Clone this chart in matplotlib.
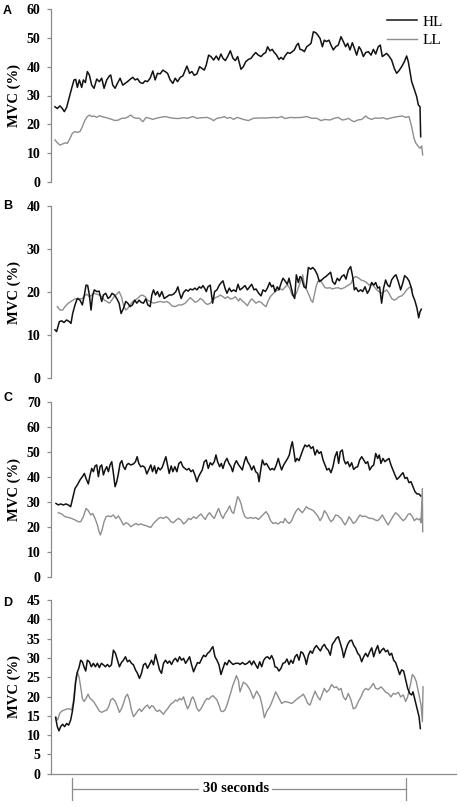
import matplotlib
matplotlib.use("Agg")
import matplotlib.pyplot as plt
import matplotlib.transforms as mtransforms

# ---------------- data (time in s, MVC in %) ----------------
a_hl_t = [-1.53,-1.32,-1.08,-0.87,-0.69,-0.48,-0.27,-0.03,0.18,0.33,0.48,0.66,0.87,1.02,1.2,1.38,1.56,1.77,1.98,2.22,
          2.46,2.67,2.88,3.12,3.36,3.48,3.66,3.87,4.08,4.32,4.56,4.77,4.98,5.22,5.46,5.67,5.88,6.12,6.36,6.57,
          6.78,7.02,7.26,7.47,7.68,7.92,8.16,8.37,8.58,8.82,9.06,9.27,9.48,9.72,9.96,10.17,10.32,10.56,10.77,10.98,
          11.22,11.46,11.67,11.88,12.06,12.27,12.48,12.72,12.96,13.17,13.38,13.56,13.77,13.98,14.22,14.46,14.67,14.88,
          15.18,15.39,15.60,15.84,16.08,16.29,16.50,16.74,16.98,17.19,17.40,17.57,17.78,17.99,18.17,18.38,18.59,18.77,18.98,19.13,
          19.37,19.58,19.79,19.97,20.18,20.33,20.48,20.69,20.87,21.08,21.29,21.47,21.68,21.89,22.07,22.28,22.49,22.66,22.87,23.08,
          23.26,23.47,23.68,23.92,24.16,24.37,24.58,24.76,24.97,25.18,25.36,25.57,25.78,25.96,26.17,26.38,26.62,26.86,27.07,27.28,
          27.51,27.69,27.87,28.05,28.26,28.47,28.71,28.95,29.16,29.37,29.61,29.85,30.06,30.21,30.36,30.51,30.75,30.96,31.11,31.26,31.32]
a_hl_v = [26.1,25.5,26.4,25.5,24.4,25.9,29.0,32.5,35.4,35.6,32.8,35.4,32.8,35.4,34.5,38.3,37.1,33.6,32.5,35.7,
          34.8,36.0,32.5,35.4,36.8,37.1,33.6,32.5,34.2,36.0,33.6,34.2,34.8,35.6,36.3,35.4,35.8,34.5,34.2,35.1,
          34.8,36.0,38.5,35.4,37.7,37.5,38.8,38.3,37.7,35.4,34.2,36.0,34.8,36.3,36.8,38.8,40.2,37.7,38.3,37.0,
          37.5,40.0,39.4,38.8,40.6,44.0,43.5,42.3,43.7,42.3,44.4,42.9,42.1,43.5,45.5,42.9,42.1,43.5,
          39.1,40.0,41.7,42.5,42.9,44.0,44.9,44.0,43.5,44.4,44.9,46.9,45.5,46.0,44.9,44.0,42.5,43.2,42.5,43.7,
          44.9,44.6,45.2,45.8,47.5,48.1,46.0,45.8,45.2,46.9,47.5,48.1,52.1,51.8,51.0,49.8,46.9,49.2,48.7,49.2,
          47.5,45.8,46.9,47.5,50.4,48.7,46.9,48.1,45.8,48.3,46.4,44.0,46.9,45.8,43.5,44.9,45.2,44.0,46.0,44.4,
          46.9,47.5,43.5,44.0,44.6,43.7,42.3,39.4,37.7,38.6,40.0,41.7,43.7,41.7,38.3,34.8,32.1,29.6,26.7,26.1,15.7]

a_ll_t = [-1.53,-1.32,-1.08,-0.84,-0.63,-0.42,-0.18,0.03,0.27,0.48,0.72,0.93,1.17,1.38,1.56,1.77,1.98,2.22,2.46,2.67,
          2.97,3.27,3.57,3.87,4.17,4.47,4.77,5.07,5.28,5.52,5.76,6.06,6.36,6.66,6.96,7.26,7.56,7.92,8.37,8.67,
          9.12,9.57,10.02,10.38,10.86,11.22,11.67,12.12,12.42,12.72,13.02,13.47,13.68,13.92,14.22,14.52,14.82,15.09,15.39,15.84,
          16.29,16.89,17.49,18.08,18.53,18.83,19.13,19.58,20.03,20.63,21.08,21.53,21.98,22.37,22.72,23.17,23.56,23.92,24.28,24.58,
          24.82,25.12,25.36,25.66,26.02,26.38,26.62,26.92,27.22,27.57,27.96,28.26,28.56,28.86,29.31,29.67,29.97,30.27,30.51,30.72,
          30.90,31.11,31.26,31.41,31.50]
a_ll_v = [14.6,13.6,12.8,13.2,13.6,13.4,15.1,16.9,17.5,17.2,17.5,19.2,21.5,22.7,23.2,22.7,22.9,22.4,23.0,22.7,
          22.4,22.1,21.7,21.3,21.5,22.1,22.1,22.7,23.2,22.4,22.1,22.1,20.9,22.4,22.1,21.7,22.1,22.4,22.7,22.4,
          22.1,22.0,22.3,22.1,22.7,22.1,22.3,22.4,22.0,21.3,22.1,22.4,22.7,22.1,22.4,21.7,22.4,22.1,21.7,21.3,
          22.1,22.2,22.2,22.4,22.3,22.7,22.0,22.4,22.3,22.4,22.7,22.1,22.1,21.3,21.7,21.5,22.1,22.4,21.5,21.7,
          22.1,21.3,20.9,21.5,21.7,22.9,22.1,21.7,22.2,22.1,22.3,21.8,22.1,22.4,22.7,22.9,22.4,22.7,19.2,15.1,
          13.4,12.3,11.7,12.5,9.4]

b_hl_t = [-1.53,-1.38,-1.14,-0.93,-0.72,-0.48,-0.24,-0.09,0.06,0.27,0.48,0.72,0.93,1.11,1.26,1.41,1.56,1.71,1.86,2.01,
          2.22,2.43,2.67,2.82,3.03,3.24,3.42,3.60,3.81,4.02,4.23,4.41,4.62,4.83,5.01,5.22,5.43,5.64,5.82,6.03,
          6.21,6.42,6.63,6.81,7.02,7.17,7.32,7.50,7.68,7.86,8.07,8.28,8.52,8.73,8.94,9.12,9.33,9.51,9.66,9.81,
          10.02,10.23,10.44,10.62,10.83,11.04,11.22,11.43,11.61,11.76,11.91,12.06,12.21,12.42,12.63,12.81,13.02,13.23,13.41,13.56,
          13.74,13.92,14.13,14.31,14.52,14.73,14.91,
          15.09,15.30,15.54,15.75,15.96,16.14,16.35,16.53,16.77,16.98,17.16,17.37,17.57,17.75,17.93,18.08,18.23,18.44,18.59,18.80,
          18.95,19.13,19.34,19.49,19.64,19.85,20.00,20.15,20.33,20.48,20.63,20.84,21.02,21.23,21.44,21.62,21.83,22.04,22.22,22.43,
          22.63,22.81,23.02,23.23,23.41,23.62,23.83,24.01,24.22,24.43,24.61,24.82,25.03,25.21,25.36,25.51,25.72,25.93,26.11,26.32,
          26.53,26.71,26.92,27.10,27.28,27.46,27.63,27.81,27.99,28.17,28.35,28.53,28.71,28.92,29.10,29.31,29.52,29.70,29.88,30.09,
          30.27,30.45,30.60,30.81,30.99,31.14,31.26,31.38]
b_hl_v = [11.2,10.8,13.1,13.3,12.9,13.5,13.1,12.7,15.0,17.0,18.5,18.1,17.0,19.3,21.6,21.5,19.3,15.8,19.3,20.5,
          20.1,20.2,17.8,19.3,19.7,18.5,18.9,19.7,19.3,18.5,17.4,15.0,16.2,17.8,17.4,16.6,17.0,18.1,17.4,18.1,
          17.6,17.4,18.4,17.0,16.6,19.3,20.5,19.3,20.1,18.9,20.1,18.5,18.9,19.3,19.3,19.5,20.1,21.2,19.7,18.5,
          19.9,20.5,20.2,20.7,20.5,20.9,20.5,21.2,20.9,21.5,20.9,20.1,21.2,21.6,17.4,20.1,20.5,21.6,22.2,22.6,
          20.9,19.7,20.9,20.1,20.5,20.1,21.8,
          20.5,20.9,21.5,20.5,21.2,21.8,20.5,20.7,19.7,19.1,20.5,20.1,21.0,22.2,21.2,21.6,20.1,21.2,20.5,22.2,
          23.2,22.6,21.8,23.2,21.6,19.3,18.5,24.0,22.2,23.6,23.2,21.2,20.9,25.7,25.3,25.7,25.1,24.0,22.4,22.8,
          23.3,23.6,24.1,24.6,22.4,21.8,23.2,22.6,23.6,24.0,23.0,25.1,25.9,23.6,20.5,21.0,20.1,20.5,20.1,21.2,
          19.7,20.5,22.2,21.6,22.2,20.9,21.2,17.4,20.9,22.8,21.6,21.2,22.8,23.6,24.0,22.4,20.5,22.0,23.8,23.3,
          22.6,21.2,19.3,17.9,16.2,14.0,15.4,16.0]

b_ll_t = [-1.32,-1.08,-0.84,-0.63,-0.33,-0.03,0.27,0.57,0.87,1.08,1.32,1.56,1.77,1.98,2.22,2.46,2.67,2.91,3.12,3.36,
          3.57,3.78,4.02,4.23,4.44,4.62,4.83,5.01,5.22,5.46,5.67,5.88,6.12,6.33,6.57,6.78,7.02,7.32,7.62,7.92,
          8.22,8.52,8.76,8.97,9.27,9.57,9.87,10.17,10.41,10.62,10.86,11.07,11.31,11.52,11.76,11.97,12.18,12.42,12.66,12.87,
          13.11,13.32,13.56,13.77,13.98,14.22,14.46,14.67,14.97,
          15.09,15.30,15.54,15.75,15.96,16.14,16.35,16.53,16.77,16.98,17.22,17.43,17.60,17.81,18.02,18.26,18.50,18.71,18.92,19.16,
          19.37,19.55,19.76,19.97,20.15,20.36,20.57,20.72,20.87,21.08,21.29,21.47,21.62,21.77,21.92,22.07,22.28,22.49,22.72,22.96,
          23.17,23.38,23.62,23.92,24.16,24.46,24.76,25.06,25.27,25.48,25.72,25.96,26.20,26.47,26.68,26.92,27.16,27.37,27.57,27.81,
          28.05,28.26,28.47,28.71,28.95,29.16,29.37,29.61,29.85,30.06,30.27,30.45,30.57]
b_ll_v = [16.6,15.8,15.8,16.6,17.4,17.9,18.4,18.5,18.4,18.9,19.5,18.9,19.3,19.7,19.5,19.3,18.9,18.1,17.8,17.4,
          18.1,18.9,19.5,20.1,18.9,17.0,15.8,16.2,17.0,17.8,18.1,18.5,19.1,19.3,18.9,18.1,17.8,17.4,17.6,17.8,
          17.6,17.8,17.4,16.8,16.6,17.0,17.0,17.4,18.1,18.7,18.1,17.6,17.9,18.5,18.1,17.4,17.1,17.4,18.1,18.7,
          18.9,19.3,18.9,18.5,18.9,18.4,18.5,18.9,17.9,
          18.5,17.9,17.4,16.8,17.8,18.4,17.9,17.4,17.8,17.6,17.0,16.6,17.8,18.9,19.5,20.1,20.5,20.7,20.5,21.2,
          21.6,20.9,19.3,18.9,19.7,21.2,22.8,24.0,21.6,20.5,19.3,18.1,17.6,19.3,21.2,22.4,22.8,22.0,21.0,20.9,
          21.0,20.7,20.9,21.0,20.7,21.0,21.5,22.0,23.2,23.6,23.3,22.8,22.6,22.2,21.6,22.0,21.2,20.5,20.1,19.7,
          20.1,20.5,19.7,18.5,18.1,18.4,18.9,19.1,19.7,20.5,21.0,21.2,20.5]

c_hl_t = [-1.44,-1.23,-1.02,-0.78,-0.54,-0.33,-0.12,0.06,0.27,0.48,0.72,0.93,1.11,1.26,1.47,1.62,1.77,1.92,2.07,2.22,
          2.37,2.52,2.67,2.82,2.97,3.12,3.27,3.42,3.57,3.72,3.87,4.02,4.17,4.32,4.47,4.62,4.77,4.92,5.07,5.28,
          5.52,5.70,5.85,6.00,6.18,6.36,6.54,6.72,6.90,7.08,7.23,7.41,7.56,7.74,7.92,8.10,8.28,8.43,8.58,8.73,
          8.91,9.06,9.24,9.42,9.60,9.78,9.96,10.14,10.32,10.50,10.68,10.86,11.04,11.22,11.37,11.52,11.70,11.88,12.06,12.24,
          12.42,12.60,12.78,12.93,13.08,13.26,13.41,13.56,13.74,13.92,14.10,14.28,14.43,14.58,14.76,14.97,
          15.09,15.30,15.48,15.63,15.78,15.96,16.14,16.32,16.50,16.68,16.80,16.95,17.10,17.28,17.46,17.63,17.81,17.99,18.17,18.35,
          18.53,18.68,18.83,19.01,19.19,19.37,19.52,19.67,19.79,19.91,20.06,20.21,20.39,20.57,20.75,20.93,21.11,21.29,21.47,21.65,
          21.83,22.01,22.19,22.37,22.55,22.73,22.90,23.08,23.26,23.44,23.62,23.80,23.95,24.10,24.28,24.43,24.58,24.76,24.94,25.12,
          25.30,25.48,25.66,25.84,26.02,26.20,26.38,26.56,26.74,26.92,27.10,27.28,27.46,27.60,27.75,27.93,28.11,28.29,28.47,28.65,
          28.83,29.01,29.19,29.37,29.55,29.73,29.91,30.09,30.27,30.45,30.63,30.81,30.99,31.17,31.32]
c_hl_v = [29.3,28.7,29.1,28.7,29.1,28.7,28.0,31.3,35.3,36.7,38.7,40.0,41.3,39.3,37.1,40.7,43.3,42.0,44.3,44.7,
          40.0,44.0,44.7,40.7,42.7,44.0,42.0,44.7,46.0,41.3,36.0,38.0,41.3,45.3,46.4,44.0,42.9,44.7,45.3,44.7,
          45.1,46.0,48.0,45.3,44.0,44.3,43.7,41.1,42.9,44.7,42.0,44.3,41.3,43.7,42.7,43.7,46.0,48.0,44.7,41.3,
          44.3,42.0,44.0,42.0,45.3,46.0,44.0,43.3,42.7,43.3,42.0,42.7,40.7,38.0,40.0,41.3,42.7,46.0,46.7,43.3,
          45.6,44.7,46.0,48.7,46.0,44.0,45.3,43.3,46.0,47.3,45.3,44.0,42.0,44.7,46.4,44.7,
          44.0,42.7,46.0,48.0,46.0,44.7,42.7,44.3,42.0,41.3,38.0,42.7,46.7,44.7,45.3,44.0,42.7,43.3,42.7,44.7,
          47.3,44.7,42.7,44.7,46.0,47.3,48.7,52.0,54.0,50.7,46.0,47.3,46.4,48.7,50.9,52.7,52.0,52.7,51.3,52.0,
          48.7,50.7,49.3,50.0,46.7,44.7,42.7,43.3,41.6,44.0,48.0,50.0,45.3,50.0,50.7,46.7,45.1,46.0,44.0,45.6,
          42.9,43.7,44.0,46.7,48.0,46.7,45.3,46.0,42.7,44.0,44.7,49.3,47.3,48.7,45.3,47.3,46.0,46.7,47.3,44.7,
          42.7,40.7,38.9,39.7,40.7,41.6,39.3,39.7,37.6,38.0,36.0,34.0,33.1,33.1,32.3]

c_ll_t = [-1.23,-0.93,-0.63,-0.33,-0.03,0.27,0.57,0.78,1.02,1.26,1.47,1.68,1.86,2.07,2.28,2.43,2.55,2.70,2.88,3.06,
          3.27,3.48,3.72,3.93,4.17,4.38,4.62,4.86,5.07,5.28,5.52,5.76,5.97,6.18,6.42,6.66,6.87,7.08,7.32,7.56,
          7.77,7.98,8.22,8.46,8.67,8.88,9.12,9.36,9.57,9.78,10.02,10.26,10.47,10.68,10.92,11.16,11.37,11.58,11.76,11.97,
          12.18,12.36,12.57,12.78,12.96,13.17,13.38,13.56,13.77,13.98,14.16,14.34,14.52,14.70,14.88,
          15.00,15.18,15.36,15.54,15.78,16.02,16.26,16.50,16.74,16.98,17.22,17.43,17.63,17.84,18.05,18.29,18.53,18.77,18.98,19.13,
          19.31,19.52,19.73,19.94,20.15,20.33,20.51,20.69,20.87,21.05,21.23,21.47,21.68,21.89,22.07,22.28,22.49,22.67,22.87,23.08,
          23.26,23.47,23.68,23.92,24.16,24.34,24.52,24.70,24.88,25.06,25.27,25.48,25.66,25.87,26.08,26.32,26.56,26.77,26.98,27.22,
          27.46,27.66,27.87,28.05,28.26,28.41,28.65,28.86,29.07,29.31,29.55,29.76,29.97,30.15,30.36,30.57,30.75,30.96,31.17,31.29,
          31.35,31.47,31.50]
c_ll_v = [25.6,25.1,24.0,23.7,23.3,22.7,22.0,22.0,24.0,27.3,26.4,24.7,25.3,23.3,20.7,18.0,16.7,18.7,22.0,24.0,
          24.3,24.0,24.7,23.3,24.3,22.7,20.7,21.6,21.1,20.0,20.7,21.3,20.7,21.1,20.7,20.4,20.0,19.7,21.3,22.4,
          23.3,23.7,23.3,24.0,23.3,22.0,21.6,22.7,23.3,22.7,21.1,22.0,23.3,22.9,24.0,23.3,24.3,25.1,24.0,22.9,
          24.7,25.6,24.3,23.3,25.3,27.3,24.7,23.3,25.3,26.7,28.3,26.0,25.3,28.7,32.0,
          31.3,29.3,26.0,24.0,23.3,23.7,23.3,23.7,22.9,24.0,25.1,26.0,24.7,22.4,21.3,21.6,21.1,22.0,21.6,23.3,
          22.0,21.3,22.4,24.7,26.4,27.3,26.4,25.6,26.7,28.0,27.3,26.9,26.4,25.3,24.3,22.4,24.0,26.4,25.3,23.3,
          22.0,22.9,24.7,24.3,23.3,22.0,20.7,22.0,24.0,22.9,21.3,22.0,23.3,24.7,24.0,24.3,23.7,23.3,23.3,22.7,
          22.4,23.3,24.7,23.3,21.6,20.7,22.7,24.3,25.6,24.7,23.3,22.4,23.3,24.7,25.3,24.0,22.4,23.3,22.7,23.3,
          21.6,35.3,18.0]

d_hl_t = [-1.47,-1.32,-1.17,-1.02,-0.84,-0.66,-0.48,-0.30,-0.12,0.03,0.18,0.33,0.48,0.63,0.78,0.93,1.08,1.23,1.38,1.56,
          1.74,1.92,2.10,2.28,2.46,2.64,2.82,3.00,3.18,3.36,3.54,3.72,3.90,4.08,4.26,4.44,4.62,4.80,4.98,5.16,
          5.34,5.52,5.70,5.88,6.06,6.24,6.42,6.60,6.78,6.96,7.14,7.32,7.50,7.68,7.86,8.04,8.22,8.40,8.58,8.76,
          8.94,9.12,9.30,9.48,9.66,9.84,10.02,10.20,10.38,10.56,10.74,10.92,11.10,11.28,11.46,11.64,11.82,12.00,12.18,12.36,
          12.54,12.66,12.84,13.02,13.20,13.38,13.56,13.74,13.92,14.10,14.28,14.46,14.70,14.97,
          15.09,15.30,15.54,15.75,15.96,16.14,16.32,16.50,16.68,16.86,17.04,17.22,17.40,17.57,17.75,17.93,18.11,18.23,18.41,18.59,
          18.77,18.95,19.13,19.31,19.49,19.67,19.85,20.03,20.21,20.39,20.57,20.75,20.93,21.05,21.23,21.41,21.59,21.77,21.95,22.13,
          22.31,22.49,22.67,22.85,23.02,23.20,23.38,23.56,23.74,23.92,24.10,24.28,24.40,24.58,24.76,24.94,25.12,25.30,25.48,25.66,
          25.84,26.02,26.20,26.38,26.56,26.74,26.92,27.10,27.28,27.46,27.63,27.81,27.99,28.17,28.35,28.53,28.71,28.89,29.07,29.25,
          29.43,29.61,29.79,29.97,30.15,30.33,30.51,30.63,30.81,30.99,31.17,31.29]
d_hl_v = [14.5,12.2,11.1,12.2,12.8,12.2,13.0,12.6,13.9,16.1,19.1,23.8,26.3,27.5,29.4,29.0,27.7,26.6,29.4,29.0,
          27.7,28.6,27.7,28.6,27.5,28.6,28.2,27.7,28.3,27.7,28.2,32.0,31.2,29.4,27.7,28.8,29.4,30.3,29.0,29.4,
          28.6,28.2,26.9,26.0,24.7,26.0,28.2,28.6,27.3,28.3,29.4,28.2,30.9,29.0,26.9,26.0,28.6,29.4,28.6,29.2,
          28.3,29.4,29.9,29.0,30.3,29.4,29.9,28.6,29.4,30.3,28.2,26.4,27.7,28.8,28.6,29.7,30.7,30.3,31.2,31.6,
          32.5,32.9,30.3,29.4,28.2,25.7,27.3,28.8,28.2,29.4,28.8,28.3,28.6,28.6,
          28.3,28.8,28.3,28.6,29.2,28.2,29.2,28.2,27.3,29.0,27.7,29.4,30.1,30.3,29.7,30.6,29.4,27.7,27.5,26.6,
          27.3,28.6,28.8,29.7,28.3,29.4,28.6,30.3,30.9,29.4,31.6,31.2,29.9,28.3,30.7,31.8,31.2,32.5,33.2,32.5,
          31.8,32.9,33.5,32.5,32.0,30.7,33.5,34.2,35.1,35.5,33.8,32.0,30.1,32.0,33.5,34.4,34.6,33.3,32.5,31.2,
          30.6,29.0,30.3,31.2,30.3,31.6,32.6,30.3,32.0,33.2,31.2,32.0,32.5,31.6,32.0,30.7,31.2,29.4,28.8,27.3,
          25.7,26.9,26.6,24.3,22.1,20.8,20.4,21.2,19.1,16.9,14.8,11.7]

d_ll_t = [-1.47,-1.29,-1.11,-0.93,-0.69,-0.45,-0.21,-0.03,0.12,0.24,0.36,0.48,0.63,0.78,0.93,1.08,1.26,1.44,1.62,1.80,
          1.98,2.22,2.46,2.67,2.88,3.12,3.30,3.48,3.66,3.87,4.08,4.26,4.44,4.62,4.80,4.98,5.16,5.34,5.52,5.70,
          5.88,6.06,6.24,6.42,6.60,6.78,6.96,7.14,7.32,7.50,7.68,7.86,8.04,8.22,8.40,8.58,8.76,8.94,9.12,9.30,
          9.48,9.66,9.84,10.02,10.20,10.38,10.56,10.74,10.86,11.04,11.22,11.40,11.58,11.76,11.94,12.12,12.30,12.48,12.66,12.84,
          13.02,13.20,13.38,13.56,13.74,13.92,14.10,14.28,14.46,14.64,14.76,14.94,
          15.09,15.39,15.69,15.99,16.29,16.59,16.89,17.10,17.28,17.49,17.78,18.08,18.29,18.53,18.83,19.13,19.43,19.73,19.97,20.18,
          20.48,20.78,20.99,21.17,21.38,21.59,21.83,22.07,22.28,22.49,22.66,22.87,23.08,23.32,23.56,23.77,23.98,24.16,24.37,24.58,
          24.82,25.06,25.27,25.48,25.72,25.96,26.17,26.38,26.62,26.86,27.07,27.28,27.51,27.75,27.96,28.17,28.41,28.65,28.86,29.07,
          29.31,29.52,29.76,29.97,30.15,30.27,30.42,30.57,30.75,30.93,31.11,31.26,31.35,31.47,31.53]
d_ll_v = [14.8,13.9,15.6,16.2,16.5,16.8,16.8,16.5,18.7,22.1,25.1,26.3,25.1,22.5,19.5,18.7,19.5,20.6,19.5,19.1,
          18.5,17.4,16.2,15.9,16.2,16.5,17.4,19.1,19.5,18.8,17.4,15.9,16.8,18.2,19.9,20.6,19.1,16.5,14.8,15.4,
          16.2,16.8,16.1,16.8,17.4,17.8,16.9,17.6,17.4,16.5,16.1,16.5,15.9,15.4,16.2,16.8,17.6,18.2,18.5,19.1,
          18.8,19.5,19.1,19.9,18.2,16.8,17.8,19.5,19.9,18.7,16.9,16.2,16.8,17.8,18.8,19.5,19.3,19.9,20.2,19.7,
          19.1,17.8,16.2,16.1,16.5,17.8,19.5,21.2,23.0,24.3,25.4,24.3,
          21.2,23.7,23.1,21.7,19.5,21.4,19.9,17.4,14.5,16.1,17.4,19.5,21.2,19.9,18.2,18.7,18.5,18.2,18.7,19.3,
          19.9,20.6,19.5,18.2,17.8,19.5,21.4,19.9,19.1,20.8,22.1,21.1,21.7,23.1,22.3,22.5,21.7,22.1,19.9,19.1,
          20.8,19.1,16.8,17.1,18.7,19.9,21.4,22.1,21.7,22.5,23.4,22.1,21.9,22.5,21.9,21.1,20.8,19.9,20.8,20.6,
          21.1,19.9,20.4,18.7,19.9,21.4,23.4,25.7,25.1,23.8,21.2,19.1,17.8,13.5,22.5]

panel_letters = ["A", "B", "C", "D"]
y_max = [60, 40, 70, 45]
y_step = [10, 10, 10, 5]
series_labels = ["HL", "LL"]
bracket_label = "30 seconds"
bracket_start, bracket_end = 0, 30

# ---------------- layout ----------------
W, H = 459, 807
fig = plt.figure(figsize=(W / 100, H / 100), dpi=100)

HL_COLOR = "#121212"
LL_COLOR = "#8e8e8e"
SPINE_COLOR = "#8c8c8c"
SERIF = ["Liberation Serif", "DejaVu Serif"]
SANS = ["Liberation Sans", "DejaVu Sans"]

X_LEFT_PX, X_RIGHT_PX = 51, 456
XLIM = ((51 - 72) / 11.133, (456 - 72) / 11.133)
boxes = [(9, 182), (206, 378), (401.7, 576.7), (600, 773.7)]   # top/bottom pixel rows
letter_y = [10.5, 206.5, 398, 603.5]

data = [((a_hl_t, a_hl_v), (a_ll_t, a_ll_v)),
        ((b_hl_t, b_hl_v), (b_ll_t, b_ll_v)),
        ((c_hl_t, c_hl_v), (c_ll_t, c_ll_v)),
        ((d_hl_t, d_hl_v), (d_ll_t, d_ll_v))]

axes = []
for i in range(4):
    top, bot = boxes[i]
    ax = fig.add_axes([X_LEFT_PX / W, 1 - bot / H, (X_RIGHT_PX - X_LEFT_PX) / W, (bot - top) / H])
    axes.append(ax)
    (ht, hv), (lt, lv) = data[i]
    assert len(ht) == len(hv) and len(lt) == len(lv), (i, len(ht), len(hv), len(lt), len(lv))
    l_hl, = ax.plot(ht, hv, color=HL_COLOR, lw=1.1, label=series_labels[0], zorder=3)
    l_ll, = ax.plot(lt, lv, color=LL_COLOR, lw=1.0, label=series_labels[1], zorder=2)
    ax.set_xlim(*XLIM)
    ax.set_ylim(0, y_max[i])
    ax.set_xticks([])
    ax.set_yticks(list(range(0, y_max[i] + 1, y_step[i])))
    for s in ("top", "right"):
        ax.spines[s].set_visible(False)
    ax.spines["bottom"].set_visible(i == 3)
    for s in ("left", "bottom"):
        ax.spines[s].set_color(SPINE_COLOR)
        ax.spines[s].set_linewidth(0.9)
    ax.tick_params(axis="y", direction="out", length=3.0, width=0.9, color=SPINE_COLOR, pad=4.5,
                   labelsize=10)
    for lab in ax.get_yticklabels():
        lab.set_fontfamily(SERIF)
        lab.set_fontweight("bold")
    ax.set_ylabel("MVC (%)", fontsize=10.5, fontweight="bold", family=SERIF)
    ax.yaxis.set_label_coords((21 - X_LEFT_PX) / (X_RIGHT_PX - X_LEFT_PX), 0.5)
    fig.text(3 / W, 1 - letter_y[i] / H, panel_letters[i], family=SANS, fontweight="bold",
             fontsize=9, ha="left", va="center")
    if i == 0:
        ax.legend(handles=[l_hl, l_ll], loc="upper left", bbox_to_anchor=(387 / W, 1 - 15 / H),
                  bbox_transform=fig.transFigure, frameon=False, borderpad=0, borderaxespad=0,
                  handlelength=1.95, handletextpad=0.35, labelspacing=0.3,
                  prop={"family": SERIF, "size": 11})

# 30-second bracket under panel D
axd = axes[3]
trans = mtransforms.blended_transform_factory(axd.transData, axd.transAxes)
hpx = boxes[3][1] - boxes[3][0]
yb = -(789 - boxes[3][1]) / hpx
y1 = -(778 - boxes[3][1]) / hpx
y2 = -(800 - boxes[3][1]) / hpx
axd.plot([bracket_start, bracket_end], [yb, yb], transform=trans, clip_on=False, color=SPINE_COLOR, lw=0.9)
for xe in (bracket_start, bracket_end):
    axd.plot([xe, xe], [y1, y2], transform=trans, clip_on=False, color=SPINE_COLOR, lw=0.9)
axd.text((bracket_start + bracket_end) / 2 - 0.3, yb, bracket_label, transform=trans, ha="center", va="center",
         fontsize=10.5, fontweight="bold", family=SERIF,
         bbox=dict(facecolor="white", edgecolor="none", pad=2.5))

fig.savefig("out.png", dpi=100, facecolor="white")
